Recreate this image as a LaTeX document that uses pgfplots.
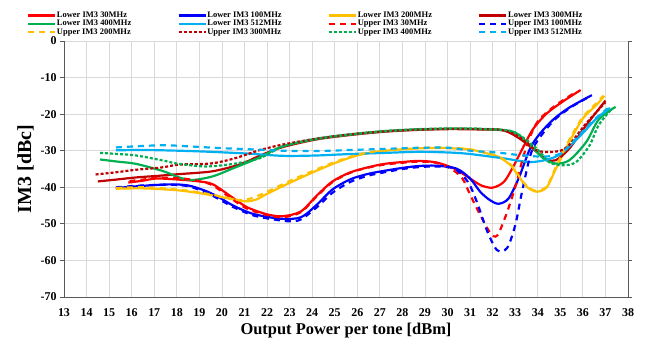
\documentclass[border=0pt]{standalone}
\usepackage{fontspec}
\setmainfont{Liberation Serif}
\usepackage{pgfplots}
\pgfplotsset{compat=1.18}
\definecolor{cRed}{HTML}{FF0000}
\definecolor{cBlue}{HTML}{0000FF}
\definecolor{cYel}{HTML}{FFC000}
\definecolor{cDred}{HTML}{C00000}
\definecolor{cGreen}{HTML}{00B050}
\definecolor{cLblue}{HTML}{00B0F0}
\definecolor{gridc}{HTML}{D9D9D9}
\definecolor{axc}{HTML}{595959}
\newcommand{\legtxt}[1]{\makebox[120bp][l]{#1}}
\begin{document}
\begin{tikzpicture}
\path[use as bounding box] (0,0) rectangle (651bp,-344bp);
\begin{axis}[
  at={(64bp,-297bp)}, anchor=south west,
  scale only axis, width=564bp, height=256bp,
  xmin=13, xmax=38, ymin=-70, ymax=0,
  xtick={13,14,...,38}, ytick={-70,-60,...,0},
  grid=major, major grid style={gridc, line width=0.8pt},
  axis x line=bottom, axis y line=box,
  axis line style={axc, line width=1pt, -},
  x tick style={draw=none}, y tick style={axc, line width=0.8pt},
  tick align=outside, major tick length=4bp,
  /pgf/number format/assume math mode=true,
  ticklabel style={font=\fontsize{12}{14}\selectfont\bfseries},
  xticklabel style={yshift=-4bp},
  xlabel={Output Power per tone [dBm]},
  ylabel={IM3 [dBc]},
  xlabel style={font=\fontsize{16.5}{18}\selectfont\bfseries, at={(axis description cs:0.5,-0.13)}, anchor=center},
  ylabel style={font=\fontsize{20}{22}\selectfont\bfseries, at={(axis description cs:-0.068,0.5)}, anchor=center, rotate=0},
  legend columns=4,
  legend style={at={(axis description cs:-0.0656,1.117)}, anchor=north west, draw=none, fill=none,
    font=\fontsize{8.5}{9}\selectfont\bfseries, inner sep=0pt, row sep=0pt, column sep=0pt,
    nodes={inner sep=0.6pt}},
  legend cell align=left,
  legend image code/.code={\draw[#1] (0bp,0bp) -- (27bp,0bp);},
  every axis plot/.append style={line width=2.2pt, smooth, tension=0.5},
  clip=true,
]
% Lower IM3 30MHz
\addplot[cRed] coordinates {(15.85,-38.7) (16.5,-38.2) (17.1,-37.6) (18.1,-37.9) (19,-38.4) (19.6,-39.2) (20.4,-42.5) (21.1,-45.4) (22,-47.4) (22.7,-47.9) (23.5,-46.6) (24.2,-42.3) (24.9,-38.4) (25.7,-35.9) (26.5,-34.5) (27.2,-33.6) (28,-33.1) (28.7,-32.8) (29.5,-33.2) (30.3,-34.9) (31,-37.6) (31.5,-39.5) (32,-40.1) (32.5,-38.5) (32.9,-34.5) (33.4,-28.5) (33.8,-24) (34.4,-19.8) (35.1,-16.6) (35.9,-13.4)};
\addlegendentry{\legtxt{Lower IM3 30MHz}}
% Lower IM3 100MHz
\addplot[cBlue] coordinates {(15.3,-40.2) (16.5,-39.6) (17.7,-39.2) (18.5,-39.5) (19.2,-40.8) (19.8,-42.5) (20.5,-45) (21.4,-47.3) (22.6,-48.6) (23.5,-48.2) (24.2,-44.8) (24.9,-40.6) (25.7,-37.8) (26.5,-36.3) (27.2,-35.5) (28,-34.7) (28.7,-34.2) (29.5,-34.1) (30.4,-34.9) (31,-37.6) (31.46,-41.3) (31.9,-43.6) (32.27,-44.5) (32.7,-43.1) (33.15,-37.6) (33.66,-29.4) (34.1,-25.3) (34.7,-21.4) (35.4,-18.2) (36.4,-14.8)};
\addlegendentry{\legtxt{Lower IM3 100MHz}}
% Lower IM3 200MHz
\addplot[cYel] coordinates {(15.3,-40.4) (16.5,-40.3) (18,-40.8) (19,-41.6) (19.9,-42.6) (21,-43.8) (21.5,-43.4) (22,-41.8) (23,-38.8) (24,-36) (25,-33.4) (26,-31.3) (27,-30.2) (28,-29.6) (29,-29.3) (30,-29.3) (31,-29.7) (31.8,-30.8) (32.3,-31.8) (32.8,-34) (33.1,-36.5) (33.5,-39.8) (33.95,-41.2) (34.4,-40) (34.8,-35) (35.4,-27.6) (36,-21.2) (36.6,-17.5) (36.95,-15)};
\addlegendentry{\legtxt{Lower IM3 200MHz}}
% Lower IM3 300MHz
\addplot[cDred] coordinates {(14.5,-38.4) (15.3,-37.9) (16.2,-37.3) (17.1,-36.9) (18.1,-36.4) (19.5,-35.7) (20.5,-34.3) (21.1,-33) (21.7,-31.3) (22.7,-29) (24.2,-26.9) (25.7,-25.7) (27.2,-24.8) (28.7,-24.3) (30.1,-24.1) (31.5,-24.2) (32.5,-24.5) (33.2,-26.7) (33.95,-30.3) (34.4,-32.4) (34.8,-32.6) (35.4,-29.4) (36.15,-23) (37,-16.3)};
\addlegendentry{\legtxt{Lower IM3 300MHz}}
% Lower IM3 400MHz
\addplot[cGreen] coordinates {(14.6,-32.4) (15.4,-33.0) (16.2,-33.6) (17.4,-35.6) (18.1,-37.3) (18.7,-38.0) (19.6,-37.0) (20.5,-34.8) (21.5,-32.3) (22.7,-28.8) (24.2,-26.8) (25.7,-25.6) (27.2,-24.7) (28.7,-24.2) (30.1,-24.0) (31.5,-24.1) (32.9,-24.8) (33.66,-28.5) (34.25,-32.1) (34.8,-33.5) (35.4,-32.6) (36.15,-27.6) (36.7,-21.5) (37.45,-18)};
\addlegendentry{\legtxt{Lower IM3 400MHz}}
% Lower IM3 512MHz
\addplot[cLblue] coordinates {(15.3,-29.9) (16.5,-29.8) (18.1,-30.0) (19.5,-30.3) (21.2,-30.8) (22.7,-31.4) (24.2,-31.3) (25.7,-30.9) (27.2,-30.6) (28.7,-30.3) (30.1,-30.5) (31,-30.9) (32.5,-32.1) (33.66,-33.1) (34.5,-32.3) (35.1,-30.5) (35.9,-25.8) (36.6,-21.2) (37.2,-18.3)};
\addlegendentry{\legtxt{Lower IM3 512MHz}}
% Upper IM3 30MHz
\addplot[cRed, dash pattern=on 6bp off 5bp] coordinates {(15.9,-38.3) (16.5,-37.9) (17.1,-37.4) (18.1,-37.5) (19,-38.3) (19.6,-39.5) (20.4,-43) (21.1,-45.8) (22,-47.6) (22.7,-48.2) (23.5,-46.8) (24.2,-42.5) (24.9,-38.6) (25.7,-36) (26.5,-34.6) (27.2,-33.8) (28,-33.3) (28.7,-33) (29.5,-33.3) (30.15,-34.9) (30.66,-37.6) (31,-42) (31.46,-47.7) (31.9,-52.5) (32.2,-53.2) (32.6,-47.5) (33,-40) (33.3,-33) (33.6,-27) (34,-22) (34.7,-18) (35.7,-13.9)};
\addlegendentry{\legtxt{Upper IM3 30MHz}}
% Upper IM3 100MHz
\addplot[cBlue, dash pattern=on 6bp off 5bp] coordinates {(15.3,-40.0) (16.5,-39.5) (17.7,-39.3) (18.5,-39.7) (19.2,-41.2) (19.8,-43) (20.5,-45.4) (21.4,-47.7) (22.3,-48.8) (23,-49.3) (23.5,-48.8) (24.2,-45.5) (24.9,-41.5) (25.7,-38.5) (26.5,-36.8) (27.2,-35.9) (28,-35) (28.7,-34.5) (29.5,-34.3) (30.3,-34.9) (30.9,-38.5) (31.3,-44) (31.76,-52) (32.2,-57.2) (32.64,-56.6) (33,-50.4) (33.3,-41.3) (33.66,-31.5) (33.95,-27.6) (34.7,-21.8) (35.5,-18) (36.3,-15.2)};
\addlegendentry{\legtxt{Upper IM3 100MHz}}
% Upper IM3 200MHz
\addplot[cYel, dash pattern=on 6bp off 5bp] coordinates {(15.3,-40.2) (16.5,-40.0) (18,-40.6) (19,-41.4) (19.9,-42.4) (20.8,-43.5) (21.4,-42.8) (22,-41.2) (23,-38.3) (24,-35.6) (25,-33.1) (26,-31.1) (27,-30.0) (28,-29.5) (29,-29.2) (30,-29.2) (31,-29.6) (31.8,-30.7) (32.3,-31.7) (32.8,-33.8) (33.1,-36.3) (33.5,-39.6) (33.95,-41) (34.4,-39.7) (34.8,-34.5) (35.4,-27) (36,-20.8) (36.6,-17) (36.9,-15)};
\addlegendentry{\legtxt{Upper IM3 200MHz}}
% Upper IM3 300MHz
\addplot[cDred, dash pattern=on 3bp off 2bp] coordinates {(14.4,-36.5) (15.3,-35.9) (16.2,-35.2) (17.3,-34.6) (18.1,-33.8) (19.5,-33.5) (20.5,-32.2) (21.2,-30.8) (21.7,-29.8) (22.7,-28.3) (24.2,-26.7) (25.7,-25.5) (27.2,-24.7) (28.7,-24.2) (30.1,-24.0) (31.5,-24.1) (32.5,-24.4) (33.2,-26.3) (33.95,-29.9) (34.7,-30.3) (35.3,-29) (36.15,-22.5) (37,-16.8)};
\addlegendentry{\legtxt{Upper IM3 300MHz}}
% Upper IM3 400MHz
\addplot[cGreen, dash pattern=on 3bp off 2bp] coordinates {(14.6,-30.6) (15.4,-30.9) (16.2,-31.3) (17.4,-32.7) (18.1,-33.6) (19.3,-34.3) (20.5,-33.6) (21.7,-32) (22.7,-28.8) (24.2,-26.7) (25.7,-25.5) (27.2,-24.6) (28.7,-24.1) (30.1,-23.9) (31.5,-24.0) (32.9,-24.8) (33.95,-29.4) (34.5,-33.1) (35.1,-34) (35.7,-33.1) (36.3,-28.5) (36.7,-23) (37.3,-18.4)};
\addlegendentry{\legtxt{Upper IM3 400MHz}}
% Upper IM3 512MHz
\addplot[cLblue, dash pattern=on 6bp off 5bp] coordinates {(15.3,-29.1) (16.5,-28.7) (17.5,-28.5) (18.5,-28.8) (20,-29.3) (21.2,-29.6) (22.7,-30.0) (24.2,-30.1) (25.7,-29.8) (27.2,-29.5) (28.7,-29.2) (30.1,-29.2) (31,-30.0) (32.2,-30.5) (33.2,-31.2) (34.25,-31.6) (35,-30.8) (35.7,-26.7) (36.4,-22.1) (37.1,-18.4)};
\addlegendentry{\legtxt{Upper IM3 512MHz}}
\end{axis}
\end{tikzpicture}
\end{document}
